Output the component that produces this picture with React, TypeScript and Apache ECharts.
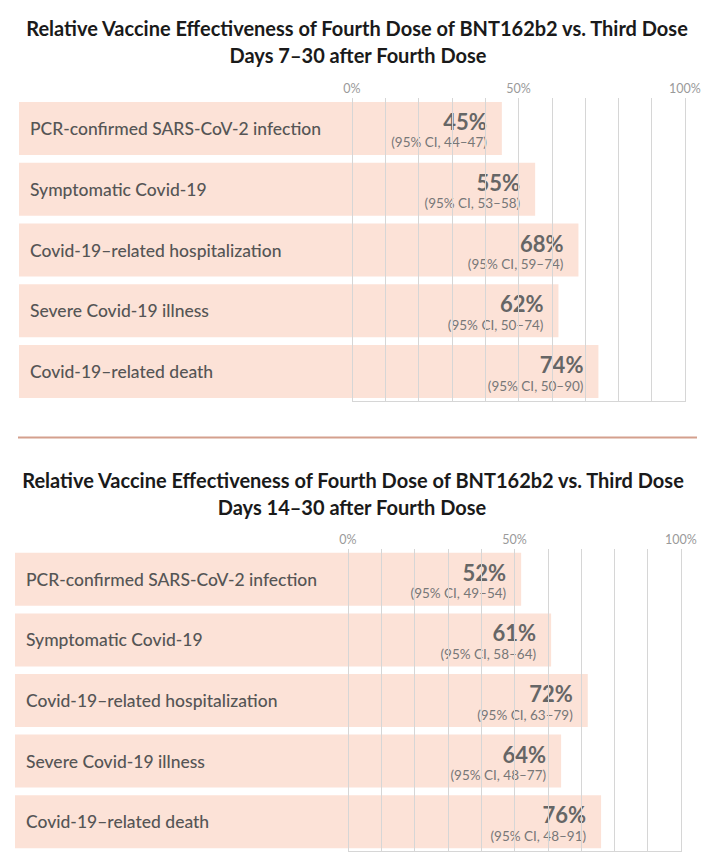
import React, { useEffect, useRef } from "react";
import * as echarts from "echarts";

const categories = [
  "PCR-confirmed SARS-CoV-2 infection",
  "Symptomatic Covid-19",
  "Covid-19–related hospitalization",
  "Severe Covid-19 illness",
  "Covid-19–related death",
];
const values7 = [45, 55, 68, 62, 74];
const ciLow7 = [44, 53, 59, 50, 50];
const ciHigh7 = [47, 58, 74, 74, 90];
const values14 = [52, 61, 72, 64, 76];
const ciLow14 = [49, 58, 63, 48, 48];
const ciHigh14 = [54, 64, 79, 77, 91];
const tickLabels = ["0%", "50%", "100%"];
const titleLine1 = "Relative Vaccine Effectiveness of Fourth Dose of BNT162b2 vs. Third Dose";
const subtitle7 = "Days 7–30 after Fourth Dose";
const subtitle14 = "Days 14–30 after Fourth Dose";

const FONT = "Lato, 'Open Sans', sans-serif";
const BAR = "#fce2d7";
const GRID_LINE = "#d6d6d6";

const grids = [
  { left: 19, top: 98, width: 666, height: 304 },
  { left: 15, top: 549, width: 666, height: 303 },
];

export default function App() {
  const ref = useRef<HTMLDivElement>(null);
  useEffect(() => {
    if (!ref.current) return;
    const chart = echarts.init(ref.current, null, { renderer: "svg" });
    const splitColors: string[] = [];
    for (let i = 0; i <= 20; i++) splitColors.push(i < 10 ? "rgba(0,0,0,0)" : GRID_LINE);

    const xAxes = grids.map((_, gi) => ({
      type: "value",
      gridIndex: gi,
      min: -100,
      max: 100,
      interval: 10,
      position: "top",
      z: 5,
      axisLine: { show: false },
      axisTick: { show: false },
      axisLabel: {
        margin: 3,
        fontFamily: FONT,
        fontSize: 12.5,
        color: "#9a9a9a",
        formatter: (v: number) => {
          const idx = [0, 50, 100].indexOf(v);
          return idx >= 0 ? tickLabels[idx] : "";
        },
      },
      splitLine: { show: true, lineStyle: { color: splitColors, width: 1 } },
    }));
    const yAxes = grids.map((_, gi) => ({
      type: "category",
      gridIndex: gi,
      data: categories,
      inverse: true,
      z: 10,
      axisLine: { show: false },
      axisTick: { show: false },
      axisLabel: {
        inside: true,
        margin: 11,
        fontFamily: FONT,
        fontSize: 17.5,
        fontWeight: 500,
        color: "#555",
        align: "left",
      },
    }));

    const makeSeries = (gi: number, vals: number[], lo: number[], hi: number[]) => [
      {
        type: "bar",
        xAxisIndex: gi,
        yAxisIndex: gi,
        data: vals.map(() => -100),
        barWidth: 53,
        barGap: "-100%",
        itemStyle: { color: BAR },
        silent: true,
      },
      {
        type: "bar",
        xAxisIndex: gi,
        yAxisIndex: gi,
        data: vals,
        barWidth: 53,
        barGap: "-100%",
        itemStyle: { color: BAR },
        label: {
          show: true,
          position: "insideRight",
          distance: 15,
          offset: [0, 3],
          align: "right",
          formatter: (p: any) =>
            `{a|${vals[p.dataIndex]}%}\n{b|(95% CI, ${lo[p.dataIndex]}–${hi[p.dataIndex]})}`,
          rich: {
            a: { fontFamily: FONT, fontSize: 22, fontWeight: 700, color: "#666", align: "right", lineHeight: 22 },
            b: { fontFamily: FONT, fontSize: 13.5, color: "#777", align: "right", lineHeight: 20 },
          },
        },
      },
    ];

    const titleStyle = { fontFamily: FONT, fontSize: 20, fontWeight: 700, fill: "#1a1a1a" };
    chart.setOption({
      animation: false,
      grid: grids.map((g) => ({ ...g, containLabel: false })),
      xAxis: xAxes,
      yAxis: yAxes,
      series: [
        ...makeSeries(0, values7, ciLow7, ciHigh7),
        ...makeSeries(1, values14, ciLow14, ciHigh14),
      ],
      graphic: [
        { type: "text", id: "t1", x: 357, y: 28, style: { ...titleStyle, text: titleLine1, align: "center", verticalAlign: "middle" } },
        { type: "text", id: "t2", x: 358, y: 55, style: { ...titleStyle, text: subtitle7, align: "center", verticalAlign: "middle" } },
        { type: "text", id: "t3", x: 353, y: 480, style: { ...titleStyle, text: titleLine1, align: "center", verticalAlign: "middle" } },
        { type: "text", id: "t4", x: 352, y: 507, style: { ...titleStyle, text: subtitle14, align: "center", verticalAlign: "middle" } },
        { type: "line", id: "sep", shape: { x1: 18, y1: 437.5, x2: 697, y2: 437.5 }, style: { stroke: "#d4a08d", lineWidth: 2 } },
      ],
    });

    const borders = grids.map((g, gi) => {
      const x0 = chart.convertToPixel({ xAxisIndex: gi }, 0) as number;
      const x1 = chart.convertToPixel({ xAxisIndex: gi }, 100) as number;
      const yb = g.top + g.height - 0.5;
      return { type: "line", id: "border" + gi, z: 10, shape: { x1: x0, y1: yb, x2: x1, y2: yb }, style: { stroke: GRID_LINE, lineWidth: 1 } };
    });
    chart.setOption({ graphic: borders });

    return () => chart.dispose();
  }, []);
  return <div ref={ref} style={{ position: "fixed", left: 0, top: 0, width: 720, height: 865, background: "#fff" }} />;
}
